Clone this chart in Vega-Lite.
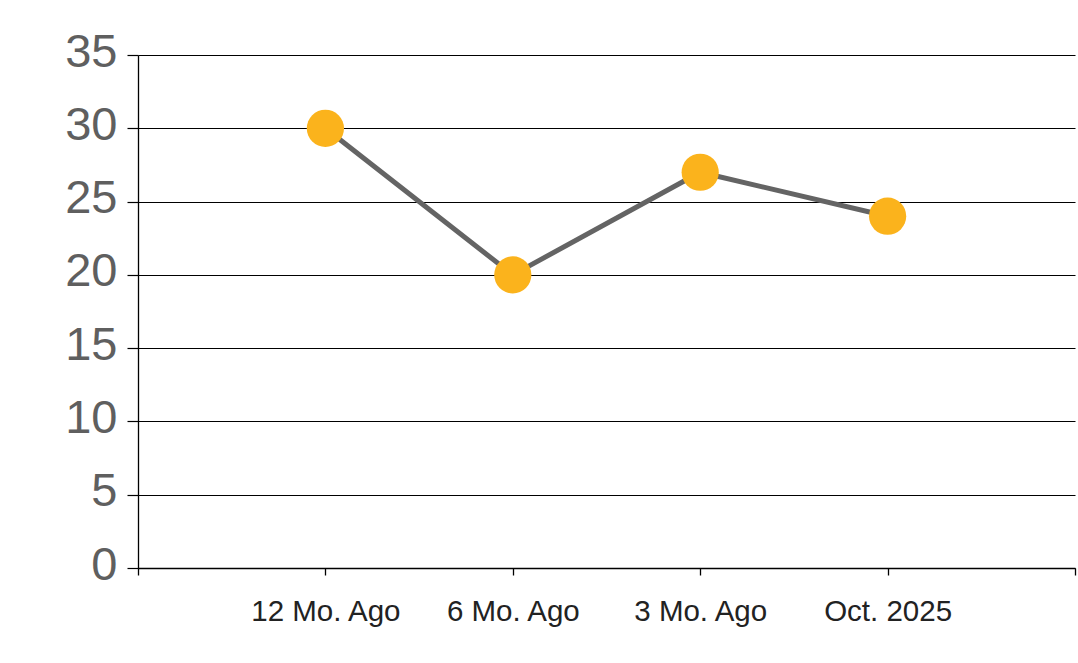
{
  "$schema": "https://vega.github.io/schema/vega-lite/v6.json",
  "width": 937,
  "height": 513,
  "autosize": "none",
  "padding": {"left": 138, "top": 55, "right": 3, "bottom": 95},
  "background": "white",
  "config": {"view": {"stroke": null}, "font": "Liberation Sans"},
  "data": {"values": [
    {"period": "12 Mo. Ago", "value": 30},
    {"period": "6 Mo. Ago", "value": 20},
    {"period": "3 Mo. Ago", "value": 27},
    {"period": "Oct. 2025", "value": 24}
  ]},
  "encoding": {
    "x": {
      "field": "period", "type": "nominal", "sort": null,
      "scale": {"type": "point", "domain": [" ", "12 Mo. Ago", "6 Mo. Ago", "3 Mo. Ago", "Oct. 2025", "  "], "padding": 0},
      "axis": {
        "title": null, "labelAngle": 0, "domainColor": "black", "domainWidth": 1.3,
        "tickColor": "black", "tickSize": 7, "tickWidth": 1.3,
        "labelFont": "Liberation Sans", "labelFontSize": 29.5, "labelColor": "#222222",
        "labelPadding": 22, "grid": false
      }
    },
    "y": {
      "field": "value", "type": "quantitative",
      "scale": {"domain": [0, 35], "nice": false},
      "axis": {
        "title": null, "values": [0, 5, 10, 15, 20, 25, 30, 35],
        "grid": true, "gridColor": "black", "gridWidth": 1.2,
        "domainColor": "black", "domainWidth": 1.3,
        "tickColor": "black", "tickSize": 11, "tickWidth": 1.2,
        "labelFont": "Liberation Sans", "labelFontSize": 47, "labelColor": "#5f5f5f",
        "labelPadding": 10, "labelBaseline": "middle", "labelOffset": -3
      }
    }
  },
  "layer": [
    {"mark": {"type": "line", "color": "#646464", "strokeWidth": 5}},
    {"mark": {"type": "point", "filled": true, "opacity": 1, "color": "#FBB31C", "size": 1385}}
  ]
}
